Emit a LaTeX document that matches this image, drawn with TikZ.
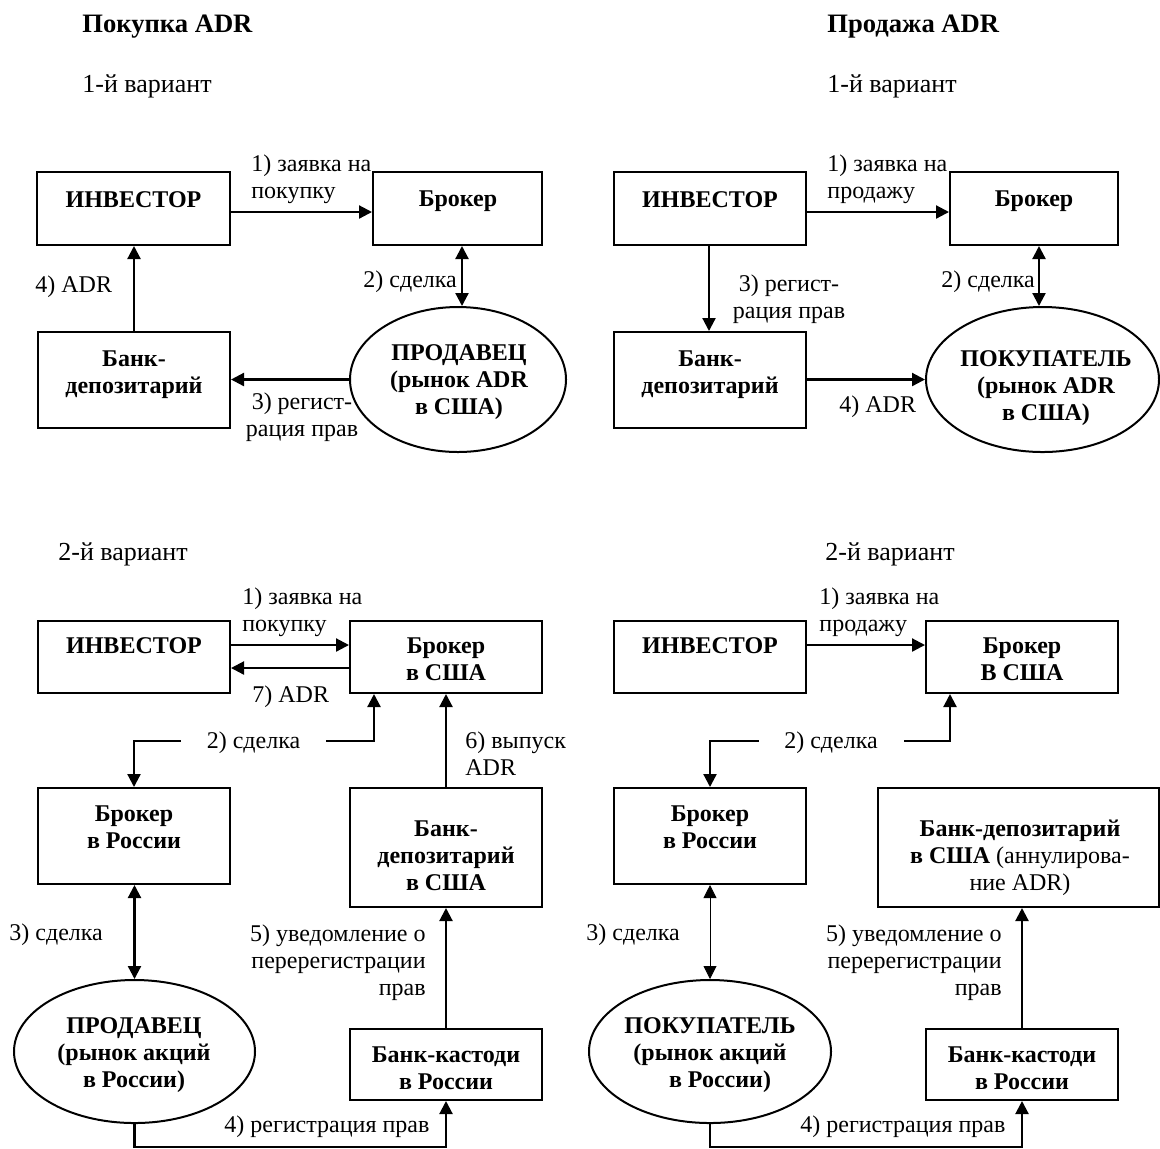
\documentclass[tikz,border=0pt]{standalone}
\usepackage{fontspec}
\setmainfont{Liberation Serif}
\usetikzlibrary{arrows.meta,fit,shapes.geometric}
\begin{document}
\begin{tikzpicture}[x=0.5pt,y=-0.5pt,
  box/.style={draw, line width=1pt, inner sep=0pt},
  ell/.style={draw, ellipse, line width=1pt, inner sep=0pt},
  arr/.style={line width=1.1pt, -{Triangle[length=6.5pt,width=6.5pt]}},
  darr/.style={line width=1.1pt, {Triangle[length=6.5pt,width=6.5pt]}-{Triangle[length=6.5pt,width=6.5pt]}},
  txt/.style={inner sep=0pt, font=\fontsize{12}{13.5}\selectfont},
  bt/.style={inner sep=0pt, font=\fontsize{12}{13.5}\selectfont\bfseries},
  head/.style={inner sep=0pt, font=\fontsize{13.3}{15}\selectfont\bfseries},
  var/.style={inner sep=0pt, font=\fontsize{13}{15}\selectfont},
  gap/.style={txt, fill=white, minimum width=72.5pt, minimum height=12pt},
]
\useasboundingbox (0,0) rectangle (1160,1148);

% ---------- headers ----------
\node[head, anchor=base west] (h1) at (82,32) {Покупка ADR};
\node[head, anchor=base west] (h2) at (827,32) {Продажа ADR};
\node[var, anchor=base west] (v1) at (82,92) {1-й вариант};
\node[var, anchor=base west] (v2) at (827,92) {1-й вариант};
\node[var, anchor=base west] (v3) at (58,560) {2-й вариант};
\node[var, anchor=base west] (v4) at (825,560) {2-й вариант};

% ---------- top left ----------
\node[box, fit={(37,172) (230,245)}] (inv1) {};
\node[box, fit={(373,172) (542,245)}] (brk1) {};
\node[box, fit={(38,332) (230,428)}] (bank1) {};
\node[ell, minimum width=108pt, minimum height=72.5pt] (ell1) at (458,379.5) {};
\node[bt, anchor=base] (t1) at (133.5,207) {ИНВЕСТОР};
\node[bt, anchor=base] (t2) at (458,206) {Брокер};
\node[bt, anchor=base, align=center] (t3) at (134,393) {Банк-\\депозитарий};
\node[bt, anchor=base, align=center] (t4) at (459,414) {ПРОДАВЕЦ\\(рынок ADR\\в США)};
\draw[arr] (inv1.east |- 0,212) -- (brk1.west |- 0,212);
\draw[darr] (brk1.south -| 462,0) -- (ell1.north -| 462,0);
\draw[arr] (ell1.west) -- (bank1.east |- ell1.west);
\draw[arr] (bank1.north -| 134,0) -- (inv1.south -| 134,0);
\node[txt, anchor=base west, align=left] (l1) at (251,198) {1) заявка на\\покупку};
\node[txt, anchor=base west] (l2) at (363,287) {2) сделка};
\node[txt, anchor=base, align=center] (l3) at (302,436) {3) регист-\\рация прав};
\node[txt, anchor=base west] (l4) at (35,292) {4) ADR};

% ---------- top right ----------
\node[box, fit={(614,172) (806,245)}] (inv2) {};
\node[box, fit={(950,172) (1118,245)}] (brk2) {};
\node[box, fit={(614,332) (806,428)}] (bank2) {};
\node[ell, minimum width=116.5pt, minimum height=72.5pt] (ell2) at (1042.5,379.5) {};
\node[bt, anchor=base] (t5) at (710,207) {ИНВЕСТОР};
\node[bt, anchor=base] (t6) at (1034,206) {Брокер};
\node[bt, anchor=base, align=center] (t7) at (710,393) {Банк-\\депозитарий};
\node[bt, anchor=base, align=center] (t8) at (1046,420) {ПОКУПАТЕЛЬ\\(рынок ADR\\в США)};
\draw[arr] (inv2.east |- 0,212) -- (brk2.west |- 0,212);
\draw[darr] (brk2.south -| 1039,0) -- (ell2.north -| 1039,0);
\draw[arr] (inv2.south -| 709,0) -- (bank2.north -| 709,0);
\draw[arr] (bank2.east |- ell2.west) -- (ell2.west);
\node[txt, anchor=base west, align=left] (l5) at (827,198) {1) заявка на\\продажу};
\node[txt, anchor=base west] (l6) at (941,287) {2) сделка};
\node[txt, anchor=base, align=center] (l7) at (789,318) {3) регист-\\рация прав};
\node[txt, anchor=base west] (l8) at (839,412) {4) ADR};

% ---------- bottom left ----------
\node[box, fit={(38,621) (230,693)}] (inv3) {};
\node[box, fit={(350,621) (542,693)}] (bus3) {};
\node[box, fit={(38,788) (230,884)}] (bru3) {};
\node[box, fit={(350,788) (542,907)}] (dep3) {};
\node[box, fit={(350,1029) (542,1100)}] (kas3) {};
\node[ell, minimum width=120.5pt, minimum height=71.5pt] (ell3) at (134.5,1051.5) {};
\node[bt, anchor=base] (t9) at (134,653) {ИНВЕСТОР};
\node[bt, anchor=base, align=center] (t10) at (446,680) {Брокер\\в США};
\node[bt, anchor=base, align=center] (t11) at (134,848) {Брокер\\в России};
\node[bt, anchor=base, align=center] (t12) at (446,890) {Банк-\\депозитарий\\в США};
\node[bt, anchor=base, align=center] (t13) at (446,1089) {Банк-кастоди\\в России};
\node[bt, anchor=base, align=center] (t14) at (134,1087) {ПРОДАВЕЦ\\(рынок акций\\в России)};
\coordinate (k3) at (253.5,741);
\coordinate (k4) at (290,1147.3);
\draw[arr] (inv3.east |- 0,645) -- (bus3.west |- 0,645);
\draw[arr] (bus3.west |- 0,668) -- (inv3.east |- 0,668);
\draw[darr] (bru3.north -| 134,0) |- (k3) -| (bus3.south -| 374,0);
\draw[darr] (bru3.south -| 134.5,0) -- (ell3.north);
\draw[arr] (dep3.north -| 446,0) -- (bus3.south -| 446,0);
\draw[arr] (kas3.north -| 446,0) -- (dep3.south -| 446,0);
\draw[arr] (ell3.south) |- (k4) -| (kas3.south -| 446,0);
\node[txt, anchor=base west, align=left] (l9) at (242,631) {1) заявка на\\покупку};
\node[txt, anchor=base west] (l10) at (252,702) {7) ADR};
\node[gap, anchor=base] (l11) at (253.5,748) {2) сделка};
\node[txt, anchor=base west, align=left] (l12) at (465,775) {6) выпуск\\ADR};
\node[txt, anchor=base west] (l13) at (9,940) {3) сделка};
\node[txt, anchor=base east, align=right] (l14) at (426,995) {5) уведомление о\\перерегистрации\\прав};
\node[txt, anchor=base west] (l15) at (224,1132) {4) регистрация прав};

% ---------- bottom right ----------
\node[box, fit={(614,621) (806,693)}] (inv4) {};
\node[box, fit={(926,621) (1118,693)}] (bus4) {};
\node[box, fit={(614,788) (806,884)}] (bru4) {};
\node[box, fit={(878,788) (1159,907)}] (dep4) {};
\node[box, fit={(926,1029) (1118,1100)}] (kas4) {};
\node[ell, minimum width=121pt, minimum height=71.5pt] (ell4) at (710,1051.5) {};
\node[bt, anchor=base] (t15) at (710,653) {ИНВЕСТОР};
\node[bt, anchor=base, align=center] (t16) at (1022,680) {Брокер\\В США};
\node[bt, anchor=base, align=center] (t17) at (710,848) {Брокер\\в России};
\node[bt, anchor=base, align=center] (t18) at (1020,890) {Банк-депозитарий\\в США {\mdseries(аннулирова-}\\{\mdseries ние ADR)}};
\node[bt, anchor=base, align=center] (t19) at (1022,1089) {Банк-кастоди\\в России};
\node[bt, anchor=base, align=center] (t20) at (710,1087) {ПОКУПАТЕЛЬ\\(рынок акций\\\hspace*{10pt}в России)};
\coordinate (k5) at (831,741);
\coordinate (k6) at (866,1147.3);
\draw[arr] (inv4.east |- 0,645) -- (bus4.west |- 0,645);
\draw[darr] (bru4.north -| 710,0) |- (k5) -| (bus4.south -| 950,0);
\draw[darr, line width=0.4pt] (bru4.south -| 710,0) -- (ell4.north);
\draw[arr] (kas4.north -| 1022,0) -- (dep4.south -| 1022,0);
\draw[arr] (ell4.south) |- (k6) -| (kas4.south -| 1022,0);
\node[txt, anchor=base west, align=left] (l16) at (819,631) {1) заявка на\\продажу};
\node[gap, anchor=base] (l17) at (831,748) {2) сделка};
\node[txt, anchor=base west] (l18) at (586,940) {3) сделка};
\node[txt, anchor=base east, align=right] (l19) at (1002,995) {5) уведомление о\\перерегистрации\\прав};
\node[txt, anchor=base west] (l20) at (800,1132) {4) регистрация прав};
\end{tikzpicture}
\end{document}
